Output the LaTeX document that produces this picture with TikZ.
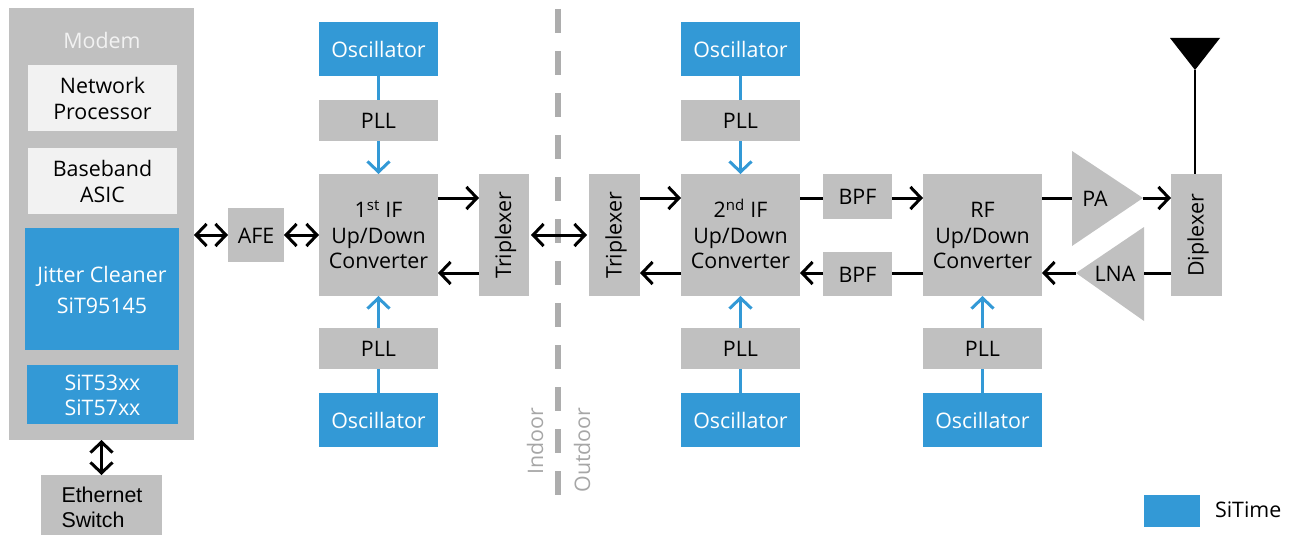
\documentclass[tikz,border=0pt]{standalone}
\usepackage{fontspec}
\usepackage{graphicx}
\setmainfont{Open Sans}
\newfontfamily\arialfont{Liberation Sans}
\usetikzlibrary{arrows.meta}
\definecolor{sitblue}{HTML}{3399D6}
\definecolor{boxgray}{HTML}{C0C0C0}
\definecolor{lightbox}{HTML}{F2F2F2}
\definecolor{dashgray}{HTML}{ADADAD}
\definecolor{labelgray}{HTML}{A6A6A6}
\newcommand\bx[7]{%
  \node[#2,minimum width={(#5-#3)*1pt},minimum height={(#6-#4)*1pt}] (#1) at ({(#3+#5)/2},{(#4+#6)/2}) {};
  \node[#2,fill=none,yshift=-0.5pt] (#1-t) at (#1) {#7};}
\newcommand\rot[1]{\hspace*{3pt}\rotatebox{90}{#1}}
\tikzset{
  base/.style={inner sep=0pt,outer sep=0pt,align=center,text=black,font=\fontsize{21.4}{25.5}\selectfont},
  graybox/.style={base,fill=boxgray},
  lightnode/.style={base,fill=lightbox},
  bluebox/.style={base,fill=sitblue,text=white},
  conn/.style={line width=3pt,black},
  oneway/.style={conn,-{Straight Barb[length=10.5pt,width=22pt,line width=3pt]}},
  twoway/.style={conn,{Straight Barb[length=10.5pt,width=22pt,line width=3pt]}-{Straight Barb[length=10.5pt,width=22pt,line width=3pt]}},
  bline/.style={line width=3pt,sitblue},
  barrow/.style={bline,-{Straight Barb[length=10.5pt,width=22pt,line width=3pt]}},
  triangle/.style={fill=boxgray,draw=none}
}
\begin{document}
\begin{tikzpicture}[x=1pt,y=-1pt]
\useasboundingbox (0,0) rectangle (1300,535);
% dashed divider
\coordinate (dtop) at (558,9);
\coordinate (dbot) at (558,495);
\draw[line width=6pt,dashgray,dash pattern=on 24pt off 18pt] (dtop) -- (dbot);
% modem
\bx{modem}{graybox}{9}{8}{194}{440}{}
\node[base,text=lightbox] (modemlabel) at (102,40.5) {Modem};
\bx{net}{lightnode}{28}{65}{177}{131}{Network\\Processor}
\bx{bb}{lightnode}{28}{148}{177}{214}{Baseband\\ASIC}
\bx{jit}{bluebox,font=\fontsize{21.4}{31}\selectfont}{25}{228}{179}{350}{Jitter Cleaner\\SiT95145}
\bx{sit}{bluebox}{27}{365}{178}{424}{SiT53xx\\SiT57xx}
\bx{eth}{graybox}{41}{475}{162}{535}{}
\node[base,align=left,anchor=west,font=\arialfont\fontsize{21.4}{25}\selectfont] (ethlabel) at (61.5,507.5) {Ethernet\\Switch};
\bx{afe}{graybox}{228}{208}{284}{262}{AFE}
% first IF column
\bx{osca}{bluebox}{319}{22}{438}{76}{Oscillator}
\bx{plla}{graybox}{319}{100}{438}{141}{PLL}
\bx{ifa}{graybox}{319}{174}{438}{296}{1\smash{\textsuperscript{st}} IF\\Up/Down\\Converter}
\bx{pllb}{graybox}{319}{328}{438}{369}{PLL}
\bx{oscb}{bluebox}{319}{393}{438}{447}{Oscillator}
\bx{tria}{graybox}{479}{174}{529}{296}{\rot{Triplexer}}
\bx{trib}{graybox}{589}{174}{640}{296}{\rot{Triplexer}}
% second IF column
\bx{oscc}{bluebox}{681}{22}{800}{76}{Oscillator}
\bx{pllc}{graybox}{681}{100}{800}{141}{PLL}
\bx{ifb}{graybox}{681}{174}{800}{296}{2\smash{\textsuperscript{nd}} IF\\Up/Down\\Converter}
\bx{plld}{graybox}{681}{328}{800}{369}{PLL}
\bx{oscd}{bluebox}{681}{393}{800}{447}{Oscillator}
\bx{bpfa}{graybox}{823}{174}{892}{219}{BPF}
\bx{bpfb}{graybox}{823}{252}{892}{296}{BPF}
% RF column
\bx{rf}{graybox}{923}{174}{1042}{296}{RF\\Up/Down\\Converter}
\bx{plle}{graybox}{923}{328}{1042}{369}{PLL}
\bx{osce}{bluebox}{923}{393}{1042}{447}{Oscillator}
\bx{dip}{graybox}{1171}{174}{1222}{296}{\rot{Diplexer}}
% amplifiers
\fill[triangle] (1072,151) -- (1143,198) -- (1072,246) -- cycle;
\fill[triangle] (1144,227) -- (1076,273) -- (1144,321) -- cycle;
\node[base] (pa) at (1095,198.5) {PA};
\node[base] (lna) at (1115,273.5) {LNA};
\coordinate (paw) at (1072,198);
\coordinate (pae) at (1143,198);
\coordinate (lnae) at (1144,273);
\coordinate (lnaw) at (1076,273);
% antenna
\fill[black] (1170,38) -- (1220,38) -- (1195,70) -- cycle;
\coordinate (anttip) at (1195,70);
\draw[line width=2pt,black] (anttip) -- (anttip |- dip.north);
% labels
\node[base,text=labelgray] (indoor) at (535,441) {\rotatebox{90}{Indoor}};
\node[base,text=labelgray] (outdoor) at (582,450) {\rotatebox{90}{Outdoor}};
% legend
\bx{leg}{base,fill=sitblue}{1144}{495}{1200}{527}{}
\node[base,anchor=west] (legt) at (1215,510) {SiTime};
% rows
\coordinate (ytop) at (0,198);
\coordinate (ybot) at (0,273);
\coordinate (ymid) at (0,235);
% blue connectors
\foreach \o/\p/\t in {osca/plla/ifa,oscc/pllc/ifb,oscb/pllb/ifa,oscd/plld/ifb,osce/plle/rf}{
  \draw[bline] (\o) -- (\p);
  \draw[barrow] (\p) -- (\t);
}
% black connectors
\draw[twoway] (modem.east |- afe) -- (afe.west);
\draw[twoway] (afe.east) -- (ifa.west |- afe);
\draw[twoway] (modem.south) -- (modem.south |- eth.north);
\draw[oneway] (ifa.east |- ytop) -- (tria.west |- ytop);
\draw[oneway] (tria.west |- ybot) -- (ifa.east |- ybot);
\draw[twoway] ([xshift=2pt]tria.east |- ymid) -- ([xshift=-2pt]trib.west |- ymid);
\draw[oneway] (trib.east |- ytop) -- (ifb.west |- ytop);
\draw[oneway] (ifb.west |- ybot) -- (trib.east |- ybot);
\draw[conn] (ifb.east |- ytop) -- (bpfa.west |- ytop);
\draw[oneway] (bpfa.east |- ytop) -- (rf.west |- ytop);
\draw[conn] (rf.west |- ybot) -- (bpfb.east |- ybot);
\draw[oneway] (bpfb.west |- ybot) -- (ifb.east |- ybot);
\draw[conn] (rf.east |- ytop) -- (paw);
\draw[oneway] (pae) -- (dip.west |- ytop);
\draw[conn] (dip.west |- ybot) -- (lnae);
\draw[oneway] (lnaw) -- (rf.east |- ybot);
\end{tikzpicture}
\end{document}
